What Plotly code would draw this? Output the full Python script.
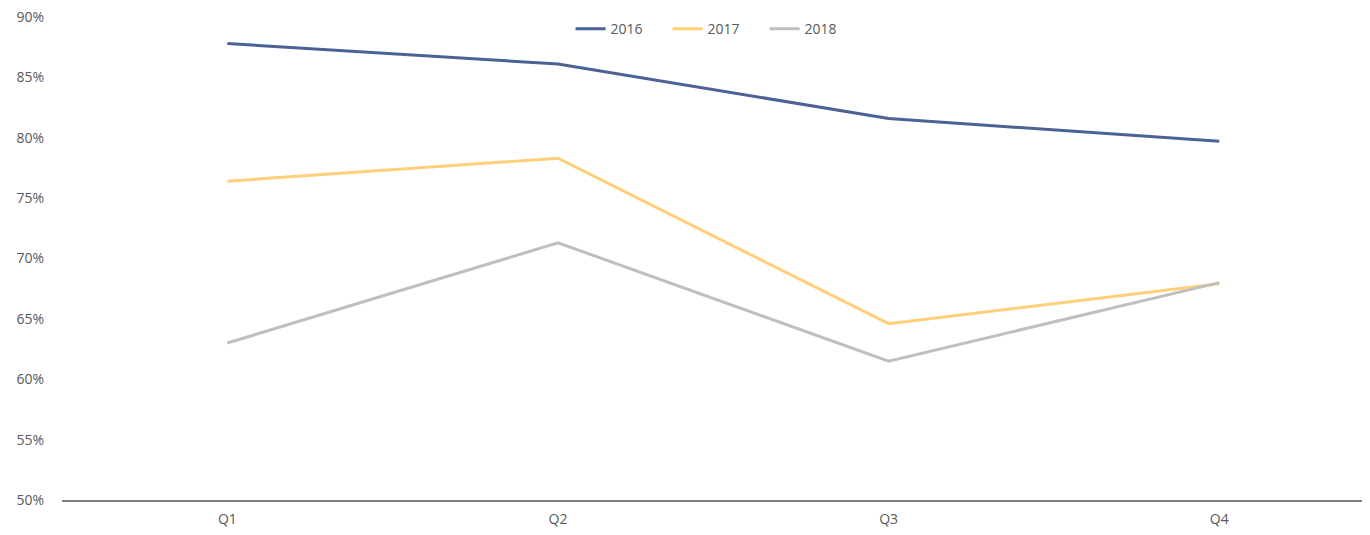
import plotly.graph_objects as go

quarters = ["Q1", "Q2", "Q3", "Q4"]
s2016 = [0.878, 0.861, 0.816, 0.797]
s2017 = [0.764, 0.783, 0.646, 0.679]
s2018 = [0.630, 0.713, 0.615, 0.680]
series_names = ["2016", "2017", "2018"]
colors = ["#4A6294", "#FFD07A", "#BFBFBF"]

fig = go.Figure()
for name, vals, col in zip(series_names, [s2016, s2017, s2018], colors):
    fig.add_trace(go.Scatter(x=quarters, y=vals, mode="lines", name=name,
                             line=dict(color=col, width=3)))

fig.update_layout(
    width=1370, height=535,
    margin=dict(l=54, r=0, t=9, b=43),
    plot_bgcolor="white", paper_bgcolor="white",
    font=dict(family="Open Sans, Noto Sans, sans-serif", size=14, color="#595959"),
    legend=dict(orientation="h", x=0.497, xanchor="center", y=0.975, yanchor="middle",
                font=dict(size=14, color="#595959"), bgcolor="rgba(0,0,0,0)",
                entrywidth=52, entrywidthmode="pixels", tracegroupgap=0),
    showlegend=True,
)
fig.update_xaxes(type="category", range=[-0.5, 3.48], showgrid=False,
                 showline=True, linecolor="#7F7F7F", linewidth=1.5,
                 ticks="", ticklabelstandoff=5, zeroline=False)
fig.update_yaxes(range=[0.5, 0.9], dtick=0.05, tickformat=".0%", showgrid=False,
                 showline=False, zeroline=False, ticks="", ticklabelstandoff=17,
                 ticklabeloverflow="allow")

fig.write_html("out.html")
